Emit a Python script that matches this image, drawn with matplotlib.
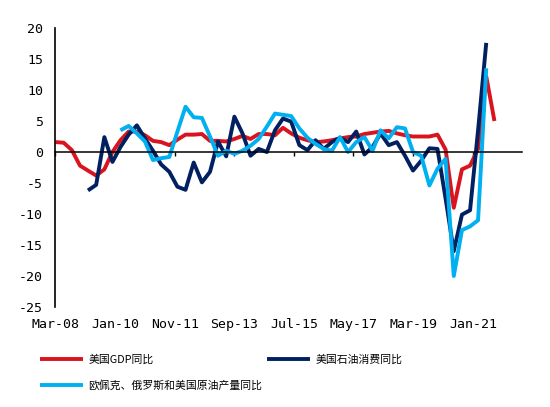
import numpy as np
import pandas as pd
import matplotlib
matplotlib.use("Agg")
import matplotlib.pyplot as plt
import matplotlib.dates as mdates

# quarterly data, Mar-08 .. Sep-21 (YoY %)
n_quarters = 55
nan = np.nan

gdp_yoy = [1.6, 1.5, 0.3, -2.2, -3.0, -3.8, -2.8, 0.0, 1.9, 3.3,
           3.3, 2.7, 1.8, 1.6, 1.1, 2.0, 2.8, 2.8, 2.9, 1.8,
           1.8, 1.7, 2.1, 2.6, 2.1, 2.9, 2.9, 2.7, 3.9, 3.0,
           2.3, 1.9, 1.6, 1.7, 1.9, 2.2, 2.4, 2.5, 2.9, 3.1,
           3.3, 3.4, 3.0, 2.7, 2.5, 2.5, 2.5, 2.8, 0.4, -9.0,
           -2.8, -2.2, 0.5, 12.2, 5.0]

oil_use_yoy = [nan, nan, nan, nan, -6.2, -5.3, 2.4, -1.6, 0.8, 2.8,
               4.3, 2.2, 0.2, -2.0, -3.2, -5.6, -6.1, -1.7, -4.9, -3.2,
               1.7, -0.7, 5.7, 3.0, -0.6, 0.5, 0.0, 3.5, 5.4, 4.9,
               1.1, 0.3, 1.9, 0.5, 1.6, 2.3, 1.6, 3.3, -0.4, 0.8,
               3.0, 1.1, 1.6, -0.6, -3.0, -1.4, 0.6, 0.5, -7.5, -16.0,
               -10.1, -9.4, 3.5, 17.6, nan]

crude_prod_yoy = [nan, nan, nan, nan, nan, nan, nan, nan, 3.5, 4.2,
                  3.0, 1.7, -1.3, -1.0, -0.8, 3.3, 7.3, 5.6, 5.5, 2.5,
                  -0.6, 0.2, -0.3, 0.2, 1.0, 2.1, 4.1, 6.2, 6.0, 5.8,
                  3.8, 2.3, 1.3, 0.5, 0.2, 2.4, 0.0, 1.6, 2.4, 0.2,
                  3.5, 2.2, 4.0, 3.8, 0.0, -0.6, -5.4, -2.7, -1.1, -20.0,
                  -12.6, -12.0, -11.0, 13.5, nan]

x_labels = ["Mar-08", "Jan-10", "Nov-11", "Sep-13", "Jul-15", "May-17", "Mar-19", "Jan-21"]
y_ticks = [-25, -20, -15, -10, -5, 0, 5, 10, 15, 20]

names = ["美国GDP同比", "美国石油消费同比", "欧佩克、俄罗斯和美国原油产量同比"]
colors = ["#D9141E", "#002060", "#00B0F0"]

quarters = mdates.date2num(pd.date_range("2008-03-01", periods=n_quarters, freq="3MS").to_pydatetime())
tick_pos = mdates.date2num(pd.to_datetime(x_labels, format="%b-%y").to_pydatetime())

tick_font = {"family": "DejaVu Sans Mono", "size": 9.5}
cjk_font = {"family": ["Noto Sans CJK SC", "DejaVu Sans"], "size": 7.8}

fig = plt.figure(figsize=(5.5, 4.07), dpi=100)
ax = fig.add_axes([0.1009, 0.2457, 0.8476, 0.6855])

handles = []
for vals, name, c in zip([gdp_yoy, oil_use_yoy, crude_prod_yoy], names, colors):
    h, = ax.plot(quarters, vals, color=c, lw=2.8, label=name,
                 solid_joinstyle="round", solid_capstyle="butt")
    handles.append(h)

ax.set_ylim(-25, 20)
ax.set_xlim(mdates.date2num(pd.Timestamp("2008-03-01")), mdates.date2num(pd.Timestamp("2022-07-04")))
ax.set_yticks(y_ticks)
ax.set_yticklabels([str(v) for v in y_ticks], fontdict=tick_font)
ax.tick_params(axis="y", length=0, pad=9)

# zero line = bottom spine, labels on a secondary axis at the bottom
for s in ["top", "right"]:
    ax.spines[s].set_visible(False)
ax.spines["bottom"].set_position(("data", 0))
ax.spines["bottom"].set_linewidth(1.1)
ax.spines["left"].set_linewidth(1.2)
ax.set_xticks(tick_pos)
ax.tick_params(axis="x", direction="out", length=3, width=1, labelbottom=False)

sec = ax.secondary_xaxis(0.0)
sec.set_xticks(tick_pos)
sec.set_xticklabels(x_labels, fontdict=tick_font)
sec.tick_params(length=0, pad=8)
sec.spines["bottom"].set_visible(False)

fig.legend(handles=[handles[0], handles[2], handles[1]],
           labels=[names[0], names[2], names[1]],
           ncol=2, loc="upper left", bbox_to_anchor=(40 / 550, 1 - 354 / 407),
           frameon=False, prop=cjk_font, handlelength=4.0, handletextpad=0.45,
           columnspacing=0.45, labelspacing=1.45, borderpad=0, borderaxespad=0)

fig.savefig("out.png", dpi=100)
